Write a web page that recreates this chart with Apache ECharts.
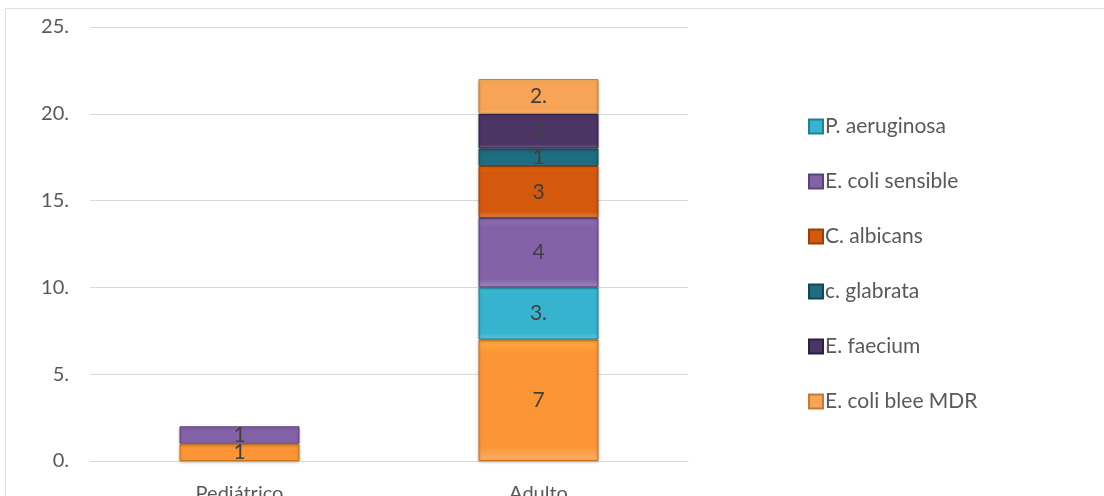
<!DOCTYPE html>
<html><head><meta charset="utf-8">
<script src="https://cdn.jsdelivr.net/npm/echarts@6/dist/echarts.min.js"></script>
<style>html,body{margin:0;padding:0;background:#fff}#c{width:1104px;height:496px}</style>
</head><body><div id="c"></div>
<script>
const categories = ['Pediátrico', 'Adulto'];
const seriesNames = ['Serie base', 'P. aeruginosa', 'E. coli sensible', 'C. albicans', 'c. glabrata', 'E. faecium', 'E. coli blee MDR'];
const legendNames = ['P. aeruginosa', 'E. coli sensible', 'C. albicans', 'c. glabrata', 'E. faecium', 'E. coli blee MDR'];
const serieBase = [1, 7];
const pAeruginosa = [null, 3];
const eColiSensible = [1, 4];
const cAlbicans = [null, 3];
const cGlabrata = [null, 1];
const eFaecium = [null, 2];
const eColiBleeMDR = [null, 2];
const labelSuffix = ['', '.', '', '', '', '', '.'];
const yTicks = [0, 5, 10, 15, 20, 25];
const colors = ['#FB9535', '#36B3CE', '#8462A8', '#D4590C', '#1F6D80', '#4A3565', '#F7A456'];
const borders = ['#C8721E', '#237E93', '#5C4279', '#9A3F08', '#134754', '#2D1F40', '#C57D33'];
const allData = [serieBase, pAeruginosa, eColiSensible, cAlbicans, cGlabrata, eFaecium, eColiBleeMDR];

const chart = echarts.init(document.getElementById('c'));
const font = 'Lato, "Open Sans", sans-serif';
chart.setOption({
  animation: false,
  textStyle: {fontFamily: font},
  graphic: [{type: 'rect', shape: {x: 5.5, y: 8.5, width: 1100, height: 500}, style: {fill: 'none', stroke: '#e0e0e0', lineWidth: 1}, silent: true}],
  grid: {left: 90, right: 416, top: 27, bottom: 35, outerBoundsMode: 'none', containLabel: false},
  legend: {
    data: legendNames, orient: 'vertical', left: 803, top: 111, itemGap: 34,
    itemWidth: 14, itemHeight: 14, icon: 'rect',
    textStyle: {fontSize: 21, color: '#595959', fontFamily: font, padding: [0,0,0,-3]}
  },
  xAxis: {
    type: 'category', data: categories,
    axisLine: {lineStyle: {color: '#d9d9d9'}}, axisTick: {show: false},
    axisLabel: {fontSize: 20, color: '#595959', margin: 23}
  },
  yAxis: {
    type: 'value', min: 0, max: 25, interval: 5,
    axisLine: {show: false}, axisTick: {show: false},
    splitLine: {lineStyle: {color: '#d9d9d9'}},
    axisLabel: {fontSize: 20, color: '#595959', margin: 21, formatter: v => v + '.'}
  },
  series: seriesNames.map((n, i) => ({
    name: n, type: 'bar', stack: 'total', barWidth: 120,
    data: allData[i],
    itemStyle: {
      color: {type: 'linear', x: 0, y: 0, x2: 0, y2: 1, colorStops: [
        {offset: 0, color: echarts.color.lift(colors[i], -0.15)},
        {offset: 0.12, color: colors[i]},
        {offset: 0.88, color: colors[i]},
        {offset: 1, color: echarts.color.lift(colors[i], 0.25)}
      ]},
      borderColor: borders[i], borderWidth: 1,
      shadowColor: 'rgba(0,0,0,0.25)', shadowBlur: 3, shadowOffsetY: 1
    },
    label: {
      show: true, position: 'inside', fontSize: 21, color: '#404040',
      formatter: p => p.value == null ? '' : p.value + labelSuffix[i]
    }
  }))
});
</script></body></html>
